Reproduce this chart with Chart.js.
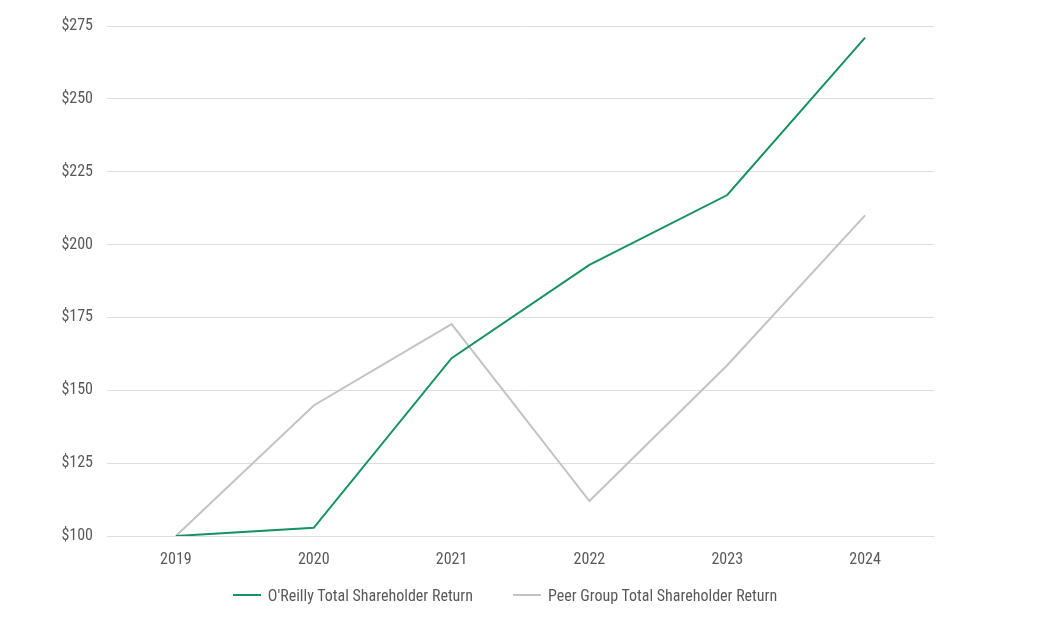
<!DOCTYPE html>
<html>
<head>
<meta charset="utf-8">
<script src="https://cdn.jsdelivr.net/npm/chart.js@4/dist/chart.umd.min.js"></script>
<style>
  html, body { margin: 0; padding: 0; background: #fff; }
  #wrap { position: relative; width: 1052px; height: 630px; }
  .chart-legend {
    position: absolute; left: 0; top: 583px; width: 1010px; height: 24px;
    display: flex; justify-content: center; align-items: center; gap: 40px;
    font-family: "Liberation Sans Narrow", "Roboto Condensed", "Liberation Sans", sans-serif;
    font-size: 16px; color: #595959;
  }
  .chart-legend-item { display: flex; align-items: center; gap: 7px; white-space: nowrap; }
  .chart-legend-line { display: inline-block; width: 28px; height: 2px; }
</style>
</head>
<body>
<div id="wrap">
  <canvas id="tsrChart" width="1052" height="630"></canvas>
  <div class="chart-legend" id="tsrLegend"></div>
</div>
<script>
// Datos del gráfico
const years = ['2019', '2020', '2021', '2022', '2023', '2024'];
const oreillyTsr = [100, 102.8, 161, 193, 217, 271];
const peerTsr = [100, 144.8, 172.7, 112, 158.6, 210];
const yTicks = [100, 125, 150, 175, 200, 225, 250, 275];
const seriesNames = ["O'Reilly Total Shareholder Return", 'Peer Group Total Shareholder Return'];

const colors = {
    green: '#14935e',
    gray:  '#c3c3c3',
    text:  '#595959',
    grid:  '#dedede',
};

const fontFamily = '"Liberation Sans Narrow", "Roboto Condensed", "Liberation Sans", sans-serif';

new Chart(document.getElementById('tsrChart'), {
    type: 'line',
    data: {
        labels: years,
        datasets: [
            {
                label: seriesNames[0],
                data: oreillyTsr,
                borderColor: colors.green,
                borderWidth: 2,
                pointRadius: 0,
                tension: 0,
            },
            {
                label: seriesNames[1],
                data: peerTsr,
                borderColor: colors.gray,
                borderWidth: 2,
                pointRadius: 0,
                tension: 0,
            }
        ]
    },
    options: {
        responsive: false,
        animation: false,
        layout: { padding: { top: 26, right: 118, left: 0, bottom: 0 } },
        plugins: {
            legend: { display: false },
            tooltip: { enabled: false }
        },
        scales: {
            x: {
                offset: true,
                grid: { display: false, drawTicks: false },
                border: { display: false },
                ticks: {
                    color: colors.text,
                    font: { family: fontFamily, size: 16 },
                    padding: 14,
                    maxRotation: 0,
                },
                afterFit: s => { s.height = 94; }
            },
            y: {
                min: 100,
                max: 275,
                afterBuildTicks: s => { s.ticks = yTicks.map(v => ({ value: v })); },
                grid: { color: colors.grid, lineWidth: 1, drawTicks: false },
                border: { display: false },
                ticks: {
                    color: colors.text,
                    font: { family: fontFamily, size: 16 },
                    padding: 14,
                    callback: v => '$' + v,
                },
                afterFit: s => { s.width = 107; }
            }
        }
    }
});

// Leyenda
const legendColors = [colors.green, colors.gray];
document.getElementById('tsrLegend').innerHTML = seriesNames.map((name, i) => `
    <div class="chart-legend-item">
        <span class="chart-legend-line" style="background:${legendColors[i]}"></span>
        <span>${name}</span>
    </div>
`).join('');
</script>
</body>
</html>
